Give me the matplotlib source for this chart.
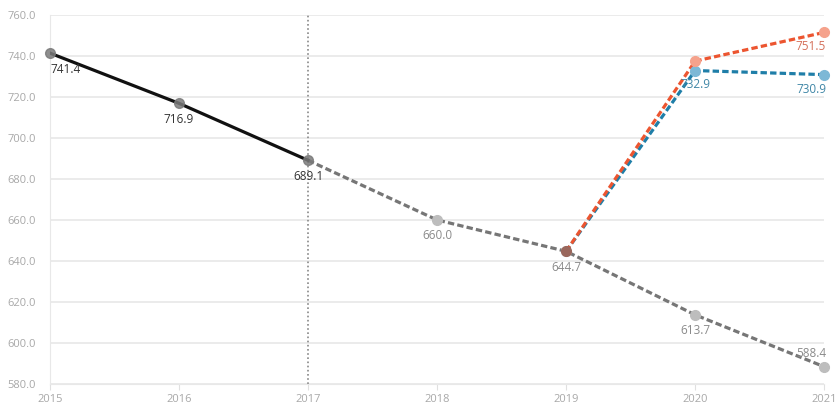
import matplotlib
matplotlib.use("Agg")
import matplotlib.pyplot as plt

years_actual = [2015, 2016, 2017]
vals_actual = [741.4, 716.9, 689.1]
years_proj = [2017, 2018, 2019, 2020, 2021]
vals_proj = [689.1, 660.0, 644.7, 613.7, 588.4]
years_high = [2019, 2020, 2021]
vals_orange = [644.7, 737.5, 751.5]
vals_blue = [644.7, 732.9, 730.9]
yticks = [580, 600, 620, 640, 660, 680, 700, 720, 740, 760]
xticks = [2015, 2016, 2017, 2018, 2019, 2020, 2021]

plt.rcParams['font.family'] = ['Open Sans', 'DejaVu Sans']
fig = plt.figure(figsize=(8.37, 4.05), dpi=100)
ax = fig.add_axes([0.0597, 0.052, 0.925, 0.911])

ax.set_xlim(2015, 2021)
ax.set_ylim(580, 760)
ax.set_yticks(yticks)
ax.set_yticklabels([f"{v:.1f}" for v in yticks])
ax.set_xticks(xticks)
ax.grid(axis='y', color='#e8e8e8', linewidth=1.2)
ax.set_axisbelow(True)
for s in ['top', 'right']:
    ax.spines[s].set_visible(False)
ax.spines['left'].set_color('#e8e8e8')
ax.spines['bottom'].set_color('#e8e8e8')
ax.tick_params(axis='y', length=0, labelsize=8, colors='#a8a8a8', pad=10)
ax.tick_params(axis='x', length=4, color='#e0e0e0', labelsize=8, colors='#a8a8a8', pad=3)

ax.axvline(2017, color='#888888', linestyle=(0, (1, 1.5)), linewidth=1.2)

dash = (0, (2, 1))
# projection line
ax.plot(years_proj, vals_proj, color='#767676', linestyle=dash, linewidth=2.3, zorder=3)
ax.plot(years_proj[1:], vals_proj[1:], 'o', color='#bdbdbd', markersize=7, zorder=4, clip_on=False)
# scenario lines
ax.plot(years_high, vals_blue, color='#1f7ea8', linestyle=dash, linewidth=2.3, zorder=5)
ax.plot(years_high, vals_orange, color='#ec5530', linestyle=dash, linewidth=2.3, zorder=6)
ax.plot(years_high[1:], vals_blue[1:], 'o', color='#7db8d6', markersize=7, zorder=7, clip_on=False)
ax.plot(years_high[1:], vals_orange[1:], 'o', color='#f5a28c', markersize=7, zorder=8, clip_on=False)
ax.plot(years_high[:1], vals_orange[:1], 'o', color='#9a675c', markersize=7, zorder=9)
# actual line
ax.plot(years_actual, vals_actual, color='#111111', linewidth=2.3, zorder=10)
ax.plot(years_actual, vals_actual, 'o', color='#7a7a7a', alpha=0.85, markersize=7, zorder=11, clip_on=False)

lab_kw = dict(fontsize=8.5, zorder=12)
def lab(x, y, txt, color, ha='center', dx=0, dy=-16):
    ax.annotate(txt, (x, y), xytext=(dx, dy), textcoords='offset pixels',
                ha=ha, va='center', color=color, **lab_kw)

lab(2015, 741.4, "741.4", '#333333', ha='left', dx=0)
lab(2016, 716.9, "716.9", '#333333')
lab(2017, 689.1, "689.1", '#333333')
lab(2018, 660.0, "660.0", '#8a8a8a')
lab(2019, 644.7, "644.7", '#8a8a8a')
lab(2020, 613.7, "613.7", '#8a8a8a')
lab(2021, 588.4, "588.4", '#8a8a8a', ha='right', dx=2, dy=13)
lab(2020, 732.9, "732.9", '#3f86a6', dy=-14)
lab(2021, 751.5, "751.5", '#d4705a', ha='right', dx=2, dy=-14)
lab(2021, 730.9, "730.9", '#3f86a6', ha='right', dx=2, dy=-15)

fig.savefig("out.png", dpi=100)
